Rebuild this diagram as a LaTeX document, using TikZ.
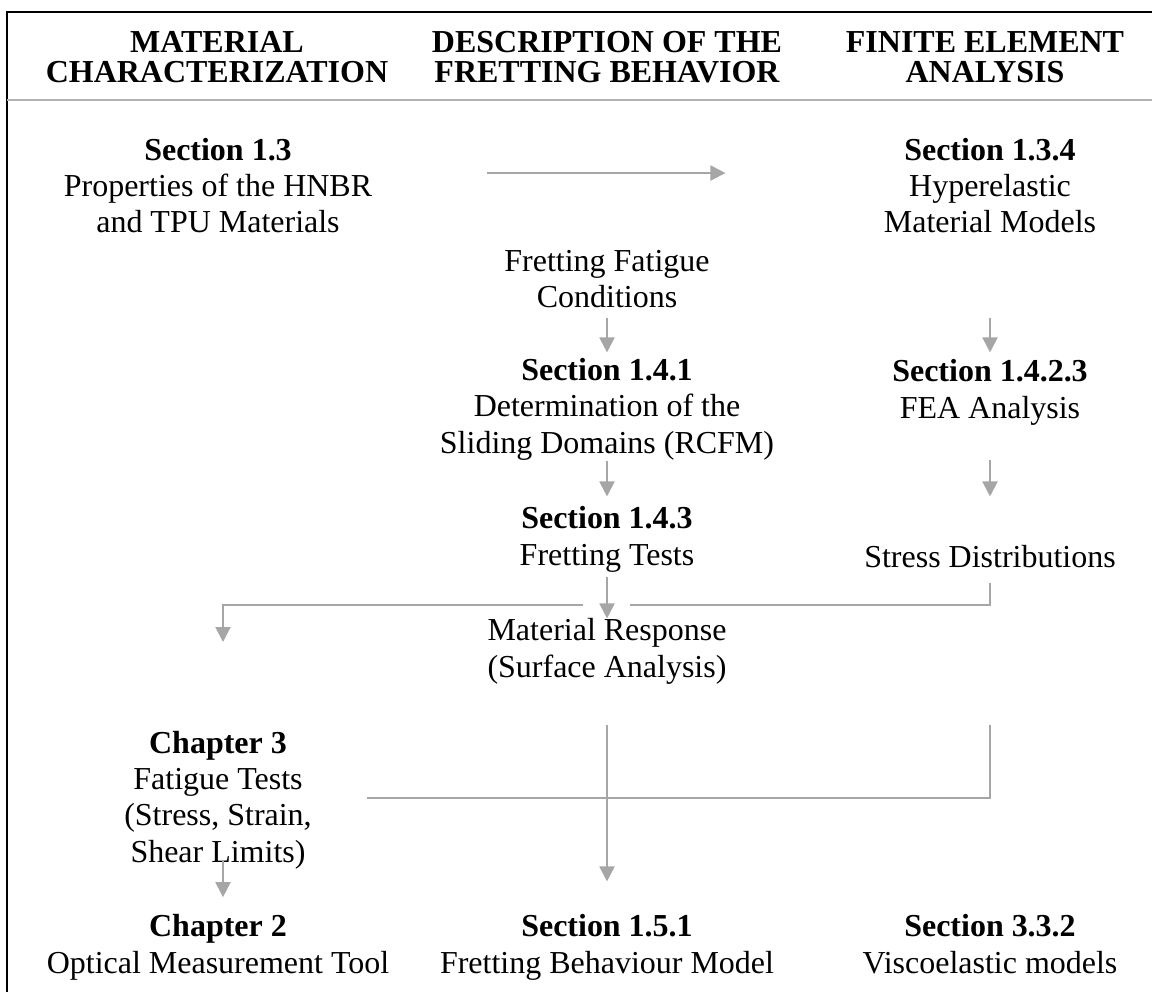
\documentclass[tikz,border=0pt]{standalone}
\usepackage{fontspec}
\setmainfont{Liberation Serif}
\usetikzlibrary{arrows.meta}
\definecolor{flowgray}{HTML}{A6A6A6}
\definecolor{rulegray}{HTML}{B2B2B2}

\begin{document}
\begin{tikzpicture}[>={Triangle[length=0.3cm,width=0.3cm]},
  head/.style={anchor=base,align=center,inner sep=0pt,
    font=\fontsize{18.2}{17.1}\selectfont\bfseries},
  box/.style={anchor=base,align=center,inner sep=0pt,
    font=\fontsize{18.2}{20.5}\selectfont},
  flow/.style={->,draw=flowgray,line width=0.04cm},
  link/.style={draw=flowgray,line width=0.04cm}]
  \useasboundingbox (0,0) rectangle (23.04,-19.84);

  % Frame and header rule
  \draw[line width=0.04cm] (23.04,-0.24) -- (0.14,-0.24) -- (0.14,-19.84);
  \draw[rulegray,line width=0.04cm] (0.14,-2.0) -- (23.04,-2.0);

  % Column headers (base = last line)
  \node[head] (hmat) at (4.34,-1.66) {MATERIAL\\CHARACTERIZATION};
  \node[head] (hfret) at (12.14,-1.66) {DESCRIPTION OF THE\\FRETTING BEHAVIOR};
  \node[head] (hfea) at (19.7,-1.66) {FINITE ELEMENT\\ANALYSIS};

  % Top row
  \node[box] (props) at (4.36,-4.66)
    {\textbf{Section 1.3}\\Properties of the HNBR\\and TPU Materials};
  \node[box] (hyper) at (19.8,-4.66)
    {\textbf{Section 1.3.4}\\Hyperelastic\\Material Models};
  \draw[flow] (props.east) ++(2.3,0.26) -- ++(4.76,0);

  % Fretting column
  \node[box] (cond) at (12.14,-6.16) {Fretting Fatigue\\Conditions};
  \node[box] (sliding) at (12.14,-9.06)
    {\textbf{Section 1.4.1}\\Determination of the\\Sliding Domains (RCFM)};
  \node[box] (tests) at (12.14,-11.3) {\textbf{Section 1.4.3}\\Fretting Tests};
  \node[box] (response) at (12.14,-13.54)
    {Material Response\\(Surface Analysis)};
  \draw[flow,shorten <=0.18cm,shorten >=0.12cm] (cond.south) -- (sliding.north);
  \draw[flow,shorten <=0.02cm,shorten >=0.2cm] (sliding.south) -- (tests.north);
  \draw[flow,shorten <=0.1cm] (tests.south) -- (response.north);

  % FEA column
  \node[box] (fea) at (19.8,-8.36) {\textbf{Section 1.4.2.3}\\FEA Analysis};
  \node[box] (stress) at (19.8,-11.34) {Stress Distributions};
  \draw[flow,shorten <=1.68cm,shorten >=0.14cm] (hyper.south) -- (fea.north);
  \draw[flow,shorten <=0.7cm,shorten >=0.96cm] (fea.south) -- (stress.north);

  % Stress results back to the material tests
  \coordinate (gapR) at (12.6,-12.1);
  \coordinate (gapL) at (11.66,-12.1);
  \coordinate (chin) at (4.46,-12.84);
  \draw[link] (stress.south) ++(0,-0.3) |- (gapR);
  \draw[flow] (gapL) -| (chin);

  % Lower rows
  \node[box] (fatigue) at (4.36,-17.24)
    {\textbf{Chapter 3}\\Fatigue Tests\\(Stress, Strain,\\Shear Limits)};
  \node[box] (optical) at (4.36,-19.46)
    {\textbf{Chapter 2}\\Optical Measurement Tool};
  \node[box] (model) at (12.14,-19.46)
    {\textbf{Section 1.5.1}\\Fretting Behaviour Model};
  \node[box] (visco) at (19.8,-19.46)
    {\textbf{Section 3.3.2}\\Viscoelastic models};

  \coordinate (rtop) at (19.8,-14.5);
  \coordinate (rend) at (7.34,-15.96);
  \draw[link] (rtop) |- (rend);
  \draw[flow,shorten <=0.82cm,shorten >=0.66cm] (response.south) -- (model.north);
  \draw[flow] ([xshift=0.1cm,yshift=0.18cm]fatigue.south) -- ++(0,-0.74);
\end{tikzpicture}
\end{document}
